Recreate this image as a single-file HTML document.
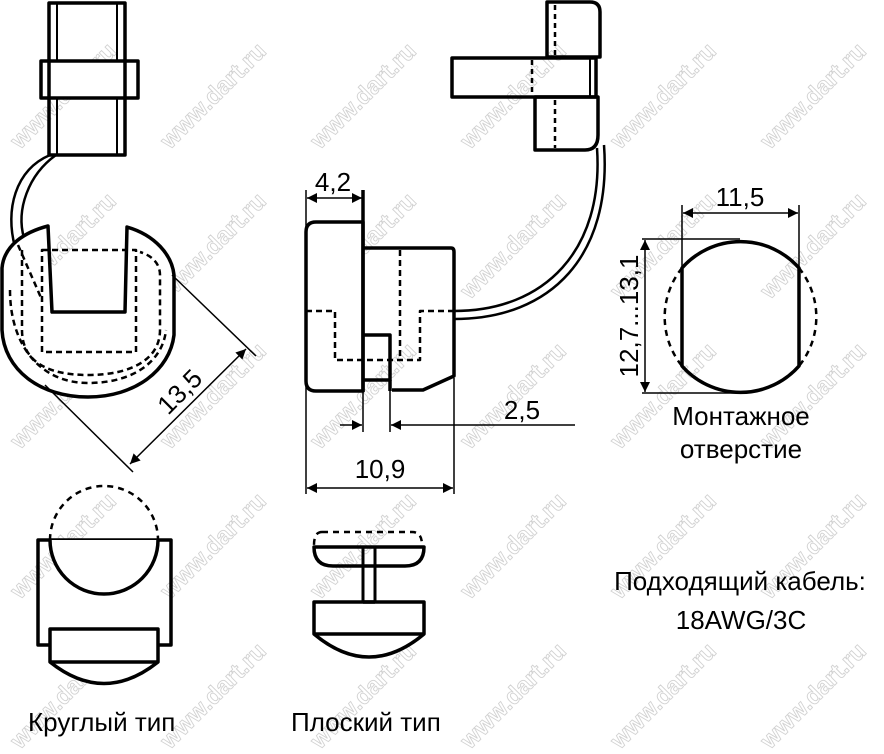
<!DOCTYPE html>
<html><head><meta charset="utf-8"><style>
html,body{margin:0;padding:0;background:#fff;width:884px;height:754px;overflow:hidden}
svg{display:block}
text{font-family:"Liberation Sans",sans-serif}
</style></head><body>
<svg width="884" height="754" viewBox="0 0 884 754" xmlns="http://www.w3.org/2000/svg">
<g fill="none" stroke="#d2d2d2" stroke-width="0.9" font-size="24" font-weight="bold">
<text transform="translate(20,150) rotate(-45)">www.dart.ru</text>
<text transform="translate(170,150) rotate(-45)">www.dart.ru</text>
<text transform="translate(320,150) rotate(-45)">www.dart.ru</text>
<text transform="translate(470,150) rotate(-45)">www.dart.ru</text>
<text transform="translate(620,150) rotate(-45)">www.dart.ru</text>
<text transform="translate(770,150) rotate(-45)">www.dart.ru</text>
<text transform="translate(20,300) rotate(-45)">www.dart.ru</text>
<text transform="translate(170,300) rotate(-45)">www.dart.ru</text>
<text transform="translate(320,300) rotate(-45)">www.dart.ru</text>
<text transform="translate(470,300) rotate(-45)">www.dart.ru</text>
<text transform="translate(620,300) rotate(-45)">www.dart.ru</text>
<text transform="translate(770,300) rotate(-45)">www.dart.ru</text>
<text transform="translate(20,450) rotate(-45)">www.dart.ru</text>
<text transform="translate(170,450) rotate(-45)">www.dart.ru</text>
<text transform="translate(320,450) rotate(-45)">www.dart.ru</text>
<text transform="translate(470,450) rotate(-45)">www.dart.ru</text>
<text transform="translate(620,450) rotate(-45)">www.dart.ru</text>
<text transform="translate(770,450) rotate(-45)">www.dart.ru</text>
<text transform="translate(20,600) rotate(-45)">www.dart.ru</text>
<text transform="translate(170,600) rotate(-45)">www.dart.ru</text>
<text transform="translate(320,600) rotate(-45)">www.dart.ru</text>
<text transform="translate(470,600) rotate(-45)">www.dart.ru</text>
<text transform="translate(620,600) rotate(-45)">www.dart.ru</text>
<text transform="translate(770,600) rotate(-45)">www.dart.ru</text>
<text transform="translate(20,750) rotate(-45)">www.dart.ru</text>
<text transform="translate(170,750) rotate(-45)">www.dart.ru</text>
<text transform="translate(320,750) rotate(-45)">www.dart.ru</text>
<text transform="translate(470,750) rotate(-45)">www.dart.ru</text>
<text transform="translate(620,750) rotate(-45)">www.dart.ru</text>
<text transform="translate(770,750) rotate(-45)">www.dart.ru</text>
</g>
<defs>
<marker id="ar" viewBox="0 0 10 10" refX="10" refY="5" markerWidth="14" markerHeight="10" markerUnits="userSpaceOnUse" orient="auto-start-reverse"><path d="M0,0 L10,5 L0,10 z" fill="#000"/></marker>
</defs>
<g stroke="#000" fill="none" stroke-width="3.5" stroke-linejoin="round">
<rect x="49" y="3" width="76" height="152"/>
<line x1="57" y1="3" x2="57" y2="155" stroke-width="2"/>
<line x1="117" y1="3" x2="117" y2="155" stroke-width="2"/>
<rect x="41" y="61" width="97" height="37" fill="#fff"/>
<line x1="49" y1="61" x2="49" y2="98"/><line x1="125" y1="61" x2="125" y2="98"/>
<path d="M50,155 C15,170 5,210 15,247" stroke-width="2.5"/>
<path d="M56,155 C28,175 16,210 24,238" stroke-width="2.5"/>
<path d="M48,226 L52,312 L125,312 L127,227 C155,235 172,255 174,275 L174,335 C170,370 135,397 88,397 C40,397 4,370 2,330 L2,268 C4,245 25,232 48,226 Z" fill="#fff"/>
<g stroke-dasharray="6,4" stroke-width="2.5">
<rect x="42" y="250" width="94" height="102"/>
<path d="M22,250 L22,330 C22,360 45,375 88,375 C130,375 160,360 160,330 L160,275 C160,262 150,255 140,252"/>
<path d="M10,290 C10,345 40,383 88,383 C135,383 163,360 166,330"/>
<path d="M18,245 L42,300"/>
</g>
<g stroke-width="1.5">
<line x1="172" y1="275" x2="256" y2="356"/>
<line x1="45" y1="385" x2="133" y2="472"/>
<line x1="130" y1="464" x2="246" y2="349" marker-start="url(#ar)" marker-end="url(#ar)"/>
</g>
<path d="M363,222 L316,222 Q306,222 306,232 L306,381 Q306,391 316,391 L363,391 Z" fill="#fff"/>
<line x1="363" y1="190" x2="363" y2="392"/>
<path d="M363,248 L451,248 Q454,248 454,252 L454,376 L423,390 L392,390"/>
<path d="M363,335 L390,335 L390,380 L363,380"/>
<line x1="390" y1="380" x2="390" y2="391"/>
<g stroke-dasharray="6,4" stroke-width="2.5">
<path d="M306,311 L335,311 L335,360 L420,360 L420,311 L454,311"/>
<line x1="400" y1="250" x2="400" y2="360"/>
</g>
<path d="M454,311 C545,311 604,250 597,148" stroke-width="2.5"/>
<path d="M454,319 C552,319 612,255 604,145" stroke-width="2.5"/>
<path d="M547,2 L590,2 Q600,2 600,12 L600,57 L547,57 Z"/>
<rect x="452" y="58" width="144" height="39"/>
<line x1="590" y1="58" x2="590" y2="97" stroke-width="2"/>
<path d="M535,97 L598,97 L598,135 Q598,150 585,150 L535,150 Z"/>
<g stroke-dasharray="5,4" stroke-width="2.5">
<line x1="555" y1="5" x2="555" y2="55"/><line x1="532" y1="60" x2="532" y2="95"/><line x1="555" y1="100" x2="555" y2="148"/>
</g>
<g stroke-width="1.5">
<line x1="306" y1="190" x2="306" y2="494"/>
<line x1="454" y1="378" x2="454" y2="494"/>
<line x1="390" y1="391" x2="390" y2="432"/>
<line x1="363" y1="392" x2="363" y2="432"/>
<line x1="307" y1="198" x2="362" y2="198" marker-start="url(#ar)" marker-end="url(#ar)"/>
<line x1="340" y1="425" x2="362" y2="425" marker-end="url(#ar)"/>
<line x1="575" y1="425" x2="391" y2="425" marker-end="url(#ar)"/>
<line x1="307" y1="488" x2="453" y2="488" marker-start="url(#ar)" marker-end="url(#ar)"/>
</g>
<path d="M682,268 A78,78 0 0 1 799,268 L799,366 A78,78 0 0 1 682,366 Z"/>
<g stroke-dasharray="6,5" stroke-width="2.5">
<path d="M682,268 A78,78 0 0 0 682,366"/><path d="M799,268 A78,78 0 0 1 799,366"/>
</g>
<g stroke-width="1.5">
<line x1="682" y1="205" x2="682" y2="268"/><line x1="799" y1="205" x2="799" y2="268"/>
<line x1="683" y1="213" x2="798" y2="213" marker-start="url(#ar)" marker-end="url(#ar)"/>
<line x1="642" y1="239" x2="740" y2="239"/><line x1="642" y1="393" x2="740" y2="393"/>
<line x1="645" y1="240" x2="645" y2="392" marker-start="url(#ar)" marker-end="url(#ar)"/>
</g>
<rect x="38" y="540" width="133" height="105"/>
<path d="M50,540 A54,54 0 0 0 158,540" fill="#fff"/>
<path d="M50,540 A54,54 0 0 1 158,540" stroke-dasharray="6,5" stroke-width="2.5"/>
<path d="M50,629 L158,629 L158,662 Q104,705 50,662 Z" fill="#fff"/>
<line x1="50" y1="662" x2="158" y2="662"/>
<path d="M322,532 L412,532 Q422,532 422,545" stroke-dasharray="6,5" stroke-width="2.5"/>
<path d="M322,532 Q314,532 314,545" stroke-dasharray="6,5" stroke-width="2.5"/>
<path d="M314,547 L424,547 Q424,566 405,566 L333,566 Q314,566 314,547 Z"/>
<rect x="363" y="547" width="12" height="70" stroke-width="3"/>
<path d="M314,602 L424,602 L424,634 Q369,680 314,634 Z" fill="#fff"/>
<line x1="314" y1="634" x2="424" y2="634"/>
<line x1="363" y1="602" x2="375" y2="602"/>
</g>
<g fill="#000" font-size="26">
<text x="333" y="191" text-anchor="middle">4,2</text>
<text x="522" y="419" text-anchor="middle">2,5</text>
<text x="380" y="478" text-anchor="middle">10,9</text>
<text x="740" y="206" text-anchor="middle">11,5</text>
<text transform="translate(638,316) rotate(-90)" text-anchor="middle">12,7...13,1</text>
<text transform="translate(186,398) rotate(-45)" text-anchor="middle">13,5</text>
<text x="741" y="425" text-anchor="middle">Монтажное</text>
<text x="741" y="458" text-anchor="middle">отверстие</text>
<text x="740" y="590" text-anchor="middle">Подходящий кабель:</text>
<text x="741" y="629" text-anchor="middle">18AWG/3C</text>
<text x="28" y="731">Круглый тип</text>
<text x="291" y="731">Плоский тип</text>
</g>
</svg>
</body></html>
